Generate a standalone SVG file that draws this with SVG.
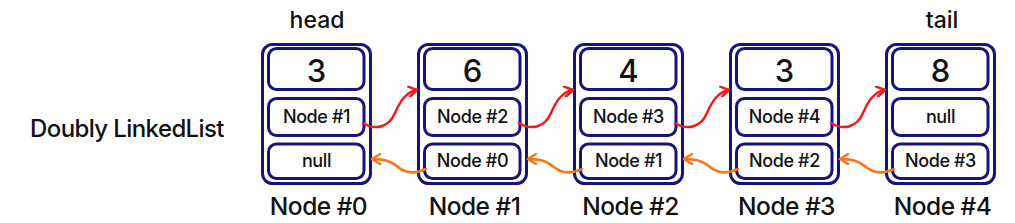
<svg xmlns="http://www.w3.org/2000/svg" width="1015" height="223" viewBox="0 0 1015 223">
<style>
.outer{fill:#fff;stroke:#16167a;stroke-width:3}
.inner{fill:#fff;stroke:#16167a;stroke-width:3}
text{font-family:Inter,"Liberation Sans",sans-serif;fill:#111;text-anchor:middle;font-weight:500}
.val{font-size:31px}
.ptr{font-size:18px;letter-spacing:-0.4px}
.lbl{font-size:24.5px;letter-spacing:-0.5px}
.nx{fill:none;stroke:#f51a1a;stroke-width:2.5;stroke-linecap:round}
.pv{fill:none;stroke:#fb7418;stroke-width:2.5;stroke-linecap:round}
</style>
<defs>
<marker id="ar" viewBox="0 0 12 12" refX="10" refY="6" markerWidth="12" markerHeight="12" markerUnits="userSpaceOnUse" orient="auto"><path d="M2,1 L10,6 L2,11" fill="none" stroke="#f51a1a" stroke-width="2.5" stroke-linecap="round" stroke-linejoin="round"/></marker>
<marker id="ao" viewBox="0 0 12 12" refX="10" refY="6" markerWidth="12" markerHeight="12" markerUnits="userSpaceOnUse" orient="auto"><path d="M2,1 L10,6 L2,11" fill="none" stroke="#fb7418" stroke-width="2.5" stroke-linecap="round" stroke-linejoin="round"/></marker>
<g id="nodeshape">
<rect class="outer" x="0" y="44.5" width="108" height="139" rx="10"/>
<rect class="inner" x="6" y="48.5" width="95.5" height="41" rx="8"/>
<rect class="inner" x="6" y="98.5" width="95.5" height="37" rx="8"/>
<rect class="inner" x="6" y="144" width="95.5" height="34.5" rx="8"/>
</g>
</defs>
<text x="127" y="137" style="font-size:24px;letter-spacing:-0.6px">Doubly LinkedList</text>
<text x="317" y="28" style="font-size:23px">head</text>
<text x="942" y="28" style="font-size:23px">tail</text>
<g id="node0" transform="translate(262.5,0)">
<use href="#nodeshape"/>
<text class="val" x="54" y="82">3</text>
<text class="ptr" x="54" y="123">Node #1</text>
<text class="ptr" x="54" y="167">null</text>
<text class="lbl" x="56" y="215">Node #0</text>
</g>
<g id="node1" transform="translate(418.5,0)">
<use href="#nodeshape"/>
<text class="val" x="54" y="82">6</text>
<text class="ptr" x="54" y="123">Node #2</text>
<text class="ptr" x="54" y="167">Node #0</text>
<text class="lbl" x="56" y="215">Node #1</text>
</g>
<g id="node2" transform="translate(574.5,0)">
<use href="#nodeshape"/>
<text class="val" x="54" y="82">4</text>
<text class="ptr" x="54" y="123">Node #3</text>
<text class="ptr" x="54" y="167">Node #1</text>
<text class="lbl" x="56" y="215">Node #2</text>
</g>
<g id="node3" transform="translate(730.5,0)">
<use href="#nodeshape"/>
<text class="val" x="54" y="82">3</text>
<text class="ptr" x="54" y="123">Node #4</text>
<text class="ptr" x="54" y="167">Node #2</text>
<text class="lbl" x="56" y="215">Node #3</text>
</g>
<g id="node4" transform="translate(886.5,0)">
<use href="#nodeshape"/>
<text class="val" x="54" y="82">8</text>
<text class="ptr" x="54" y="123">null</text>
<text class="ptr" x="54" y="167">Node #3</text>
<text class="lbl" x="56" y="215">Node #4</text>
</g>
<g id="connectors">
<path class="nx" marker-end="url(#ar)" d="M363,123 C376,131 389,127 395,113 C401,99 407,92 417,90"/>
<path class="nx" marker-end="url(#ar)" d="M519,123 C532,131 545,127 551,113 C557,99 563,92 573,90"/>
<path class="nx" marker-end="url(#ar)" d="M675,123 C688,131 701,127 707,113 C713,99 719,92 729,90"/>
<path class="nx" marker-end="url(#ar)" d="M831,123 C844,131 857,127 863,113 C869,99 875,92 885,90"/>
<path class="pv" marker-end="url(#ao)" d="M426,169 C415,174 405,173 398,167 C391,161 384,159 372,159"/>
<path class="pv" marker-end="url(#ao)" d="M582,169 C571,174 561,173 554,167 C547,161 540,159 528,159"/>
<path class="pv" marker-end="url(#ao)" d="M738,169 C727,174 717,173 710,167 C703,161 696,159 684,159"/>
<path class="pv" marker-end="url(#ao)" d="M894,169 C883,174 873,173 866,167 C859,161 852,159 840,159"/>
</g>
</svg>
